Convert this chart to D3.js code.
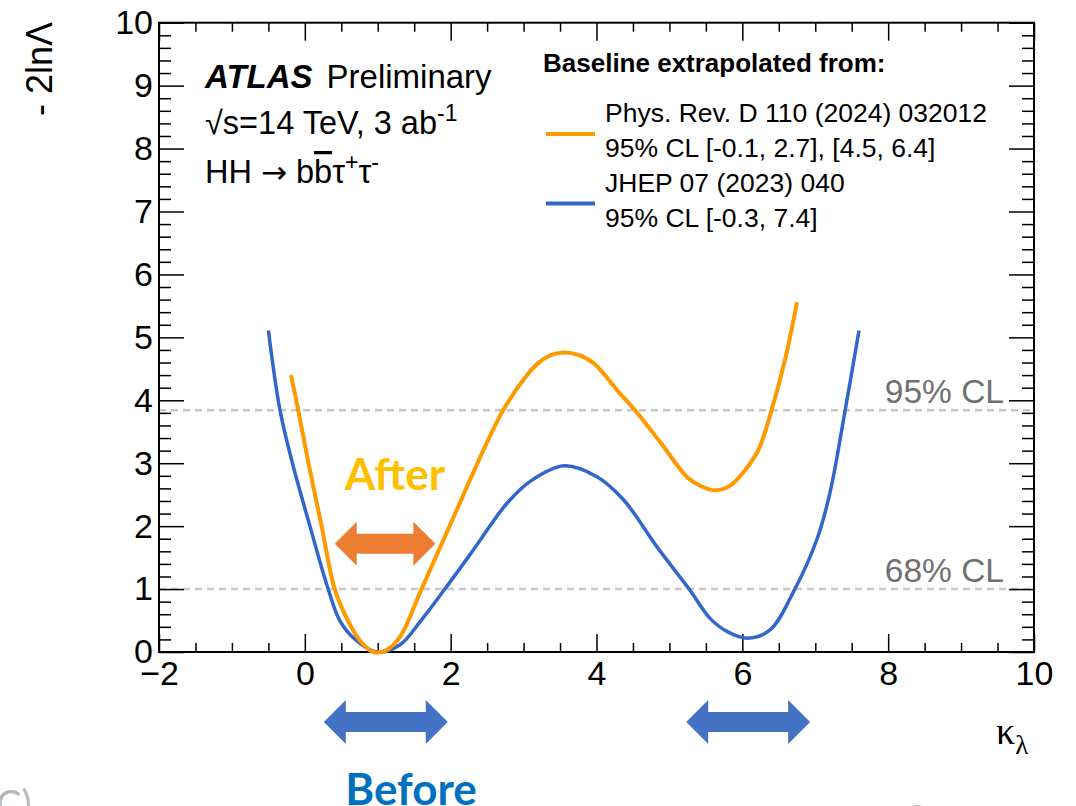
<!DOCTYPE html>
<html>
<head>
<meta charset="utf-8">
<script src="https://cdn.jsdelivr.net/npm/d3@7"></script>
<style>
body { margin: 0; background: #fff; }
svg { display: block; font-family: "Liberation Sans", Arial, sans-serif; }
.tick line { stroke: #000; stroke-width: 1.5; }
</style>
</head>
<body>
<div id="maincontainer"></div>
<script>
// scan of -2lnL vs kappa_lambda
var kappaBefore = [-0.5, -0.34, -0.17, 0.07, 0.32, 0.48, 0.69, 0.985, 1.3, 1.6, 1.92, 2.31, 2.77, 3.1, 3.555,
    4.0, 4.37, 4.83, 5.27, 5.56, 5.8, 6.07, 6.38, 6.72, 7.02, 7.2, 7.41, 7.6];
var nllBefore = [5.11, 3.84, 3.0, 2.0, 1.0, 0.5, 0.2, 0.0, 0.11, 0.51, 1.0, 1.62, 2.36, 2.72, 2.96,
    2.79, 2.42, 1.67, 1.0, 0.53, 0.32, 0.22, 0.35, 1.0, 1.78, 2.52, 3.84, 5.11];

var kappaAfter = [-0.19, -0.09, 0.05, 0.23, 0.41, 0.6, 0.77, 0.94, 1.12, 1.305, 1.6, 2.0, 2.47, 2.72, 3.0, 3.2,
    3.38, 3.57, 3.75, 3.96, 4.32, 4.53, 4.87, 5.26, 5.44, 5.63, 5.83, 6.01, 6.22, 6.4, 6.585, 6.75];
var nllAfter = [4.40, 3.84, 3.0, 2.0, 1.0, 0.48, 0.16, 0.0, 0.03, 0.24, 1.0, 2.04, 3.26, 3.84, 4.33, 4.59,
    4.72, 4.76, 4.72, 4.59, 4.11, 3.84, 3.34, 2.76, 2.63, 2.57, 2.64, 2.85, 3.21, 3.84, 4.64, 5.56];

var xMajor = [-2, 0, 2, 4, 6, 8, 10];
var yMajor = [0, 1, 2, 3, 4, 5, 6, 7, 8, 9, 10];
var clLevels = [1.0, 3.84];
var clLabels = ["68% CL", "95% CL"];

var legendRefs = ["Phys. Rev. D 110 (2024) 032012", "JHEP 07 (2023) 040"];
var legendCL = ["95% CL [-0.1, 2.7], [4.5, 6.4]", "95% CL [-0.3, 7.4]"];

// slide annotations (kappa ranges of the arrows)
var afterArrow = [[0.41, 1.79]];
var beforeArrows = [[0.26, 1.96], [5.23, 6.93]];

var W = 1076, H = 806;
var orange = "#ff9900", blue = "#3366cc";

var svg = d3.select("#maincontainer")
    .append("svg")
    .attr("width", W)
    .attr("height", H);

var x = d3.scaleLinear().domain([-2, 10]).range([159, 1034]);
var y = d3.scaleLinear().domain([0, 10]).range([652, 22.7]);

var xMinor = d3.range(-2, 10.001, 0.5).filter(function(d) { return xMajor.indexOf(d) < 0; });
var yMinor = d3.range(0, 10.001, 0.2).filter(function(d) { return Math.abs(d - Math.round(d)) > 0.01; });

// CL lines
svg.selectAll("line.cl")
    .data(clLevels)
    .enter().append("line")
    .attr("class", "cl")
    .attr("x1", x(-2)).attr("x2", x(10))
    .attr("y1", function(d) { return y(d); })
    .attr("y2", function(d) { return y(d); })
    .attr("stroke", "#c8c8c8")
    .attr("stroke-width", 2.5)
    .attr("stroke-dasharray", "7,5");

svg.selectAll("text.cl")
    .data(clLevels)
    .enter().append("text")
    .attr("class", "cl")
    .attr("x", x(10) - 30)
    .attr("y", function(d) { return y(d) - 7; })
    .attr("text-anchor", "end")
    .attr("font-size", 33.5)
    .attr("fill", "#707070")
    .text(function(d, i) { return clLabels[i]; });

// axes
function axisG(axis, tx, ty) {
    var g = svg.append("g")
        .attr("transform", "translate(" + tx + "," + ty + ")")
        .call(axis);
    g.select(".domain").remove();
    return g;
}

axisG(d3.axisBottom(x).tickValues(xMajor).tickSizeInner(-18).tickSizeOuter(0).tickPadding(9), 0, y(0))
    .selectAll("text").attr("font-size", 34).attr("fill", "#000").style("font-family", "Liberation Sans");
axisG(d3.axisBottom(x).tickValues(xMinor).tickSizeInner(-9).tickSizeOuter(0).tickFormat(""), 0, y(0));
axisG(d3.axisTop(x).tickValues(xMajor).tickSizeInner(-18).tickSizeOuter(0).tickFormat(""), 0, y(10));
axisG(d3.axisTop(x).tickValues(xMinor).tickSizeInner(-9).tickSizeOuter(0).tickFormat(""), 0, y(10));

axisG(d3.axisLeft(y).tickValues(yMajor).tickSizeInner(-25).tickSizeOuter(0).tickPadding(6), x(-2), 0)
    .selectAll("text").attr("font-size", 34).attr("fill", "#000").style("font-family", "Liberation Sans");
axisG(d3.axisLeft(y).tickValues(yMinor).tickSizeInner(-12).tickSizeOuter(0).tickFormat(""), x(-2), 0);
axisG(d3.axisRight(y).tickValues(yMajor).tickSizeInner(-25).tickSizeOuter(0).tickFormat(""), x(10), 0);
axisG(d3.axisRight(y).tickValues(yMinor).tickSizeInner(-12).tickSizeOuter(0).tickFormat(""), x(10), 0);

svg.append("rect")
    .attr("x", x(-2)).attr("y", y(10))
    .attr("width", x(10) - x(-2))
    .attr("height", y(0) - y(10))
    .attr("fill", "none")
    .attr("stroke", "#000")
    .attr("stroke-width", 2);

// curves
var lineBefore = d3.line()
    .x(function(d, i) { return x(kappaBefore[i]); })
    .y(function(d) { return y(d); })
    .curve(d3.curveCatmullRom.alpha(0.5));

var lineAfter = d3.line()
    .x(function(d, i) { return x(kappaAfter[i]); })
    .y(function(d) { return y(d); })
    .curve(d3.curveCatmullRom.alpha(0.5));

svg.append("path")
    .attr("d", lineBefore(nllBefore))
    .attr("fill", "none")
    .attr("stroke", blue)
    .attr("stroke-width", 3.5);

svg.append("path")
    .attr("d", lineAfter(nllAfter))
    .attr("fill", "none")
    .attr("stroke", orange)
    .attr("stroke-width", 4)
    .attr("stroke-linejoin", "round");

// axis titles
svg.append("text")
    .attr("transform", "translate(52,22) rotate(-90)")
    .attr("text-anchor", "end")
    .attr("font-size", 36)
    .text("- 2ln\u039B");

var kl = svg.append("text")
    .attr("x", 996).attr("y", 744)
    .style("font-family", "Liberation Serif")
    .attr("font-size", 38)
    .text("\u03BA");
kl.append("tspan")
    .attr("dy", 10)
    .attr("font-size", 27)
    .text("\u03BB");

// ATLAS label
var atl = svg.append("text")
    .attr("x", 205).attr("y", 88)
    .attr("font-size", 33);
atl.append("tspan")
    .attr("font-weight", "bold")
    .attr("font-style", "italic")
    .text("ATLAS");
atl.append("tspan")
    .attr("dx", 14)
    .text("Preliminary");

var ecm = svg.append("text")
    .attr("x", 205).attr("y", 134)
    .attr("font-size", 32.5);
ecm.append("tspan").text("\u221As=14 TeV, 3 ab");
ecm.append("tspan").attr("dy", -13).attr("font-size", 23).text("-1");

var chan = svg.append("text")
    .attr("x", 205).attr("y", 183)
    .attr("font-size", 32.5);
chan.append("tspan").text("HH ");
chan.append("tspan").style("font-family", "DejaVu Sans").attr("font-size", 31).text("\u2192");
chan.append("tspan").text(" b");
chan.append("tspan").style("text-decoration", "overline").text("b");
chan.append("tspan").text("\u03C4");
chan.append("tspan").attr("dy", -13).attr("font-size", 23).text("+");
chan.append("tspan").attr("dy", 13).text("\u03C4");
chan.append("tspan").attr("dy", -13).attr("font-size", 23).text("-");

// legend
svg.append("text")
    .attr("x", 543).attr("y", 72)
    .attr("font-size", 26)
    .attr("font-weight", "bold")
    .text("Baseline extrapolated from:");

var legColors = [orange, blue];
var leg = svg.selectAll("g.leg")
    .data(legendRefs)
    .enter().append("g")
    .attr("class", "leg")
    .attr("transform", function(d, i) { return "translate(0," + (i * 69.5) + ")"; });

leg.append("line")
    .attr("x1", 546).attr("x2", 595)
    .attr("y1", 134).attr("y2", 134)
    .attr("stroke", function(d, i) { return legColors[i]; })
    .attr("stroke-width", 4);
leg.append("text")
    .attr("x", 605).attr("y", 122)
    .attr("font-size", 26.5)
    .text(function(d) { return d; });
leg.append("text")
    .attr("x", 605).attr("y", 157)
    .attr("font-size", 26.5)
    .text(function(d, i) { return legendCL[i]; });

// double arrows from the slide
function dblArrow(x0, x1, cy) {
    var hh = 22, sh = 10, hl = 22;
    return "M" + x0 + "," + cy +
        "L" + (x0 + hl) + "," + (cy - hh) +
        "L" + (x0 + hl) + "," + (cy - sh) +
        "L" + (x1 - hl) + "," + (cy - sh) +
        "L" + (x1 - hl) + "," + (cy - hh) +
        "L" + x1 + "," + cy +
        "L" + (x1 - hl) + "," + (cy + hh) +
        "L" + (x1 - hl) + "," + (cy + sh) +
        "L" + (x0 + hl) + "," + (cy + sh) +
        "L" + (x0 + hl) + "," + (cy + hh) + "Z";
}

svg.selectAll("path.after")
    .data(afterArrow)
    .enter().append("path")
    .attr("class", "after")
    .attr("d", function(d) { return dblArrow(x(d[0]), x(d[1]), y(1.72)); })
    .attr("fill", "#ed7d31");

svg.selectAll("path.before")
    .data(beforeArrows)
    .enter().append("path")
    .attr("class", "before")
    .attr("d", function(d) { return dblArrow(x(d[0]), x(d[1]), 722); })
    .attr("fill", "#4472c4");

svg.append("text")
    .attr("x", 395).attr("y", 490)
    .attr("text-anchor", "middle")
    .style("font-family", "Lato")
    .attr("font-weight", "bold")
    .attr("font-size", 44)
    .attr("fill", "#ffc000")
    .text("After");

svg.append("text")
    .attr("x", 411).attr("y", 805)
    .attr("text-anchor", "middle")
    .style("font-family", "Lato")
    .attr("font-weight", "bold")
    .attr("font-size", 44)
    .attr("fill", "#0070c0")
    .text("Before");

// bits of slide text cut off at the bottom
svg.append("text")
    .attr("x", -4).attr("y", 818)
    .style("font-family", "Lato")
    .attr("font-size", 38)
    .attr("fill", "#b8b8b8")
    .text("C)");
svg.append("text")
    .attr("x", 905).attr("y", 834)
    .style("font-family", "Lato")
    .attr("font-size", 40)
    .attr("fill", "#b8b8b8")
    .text("S");
</script>
</body>
</html>
